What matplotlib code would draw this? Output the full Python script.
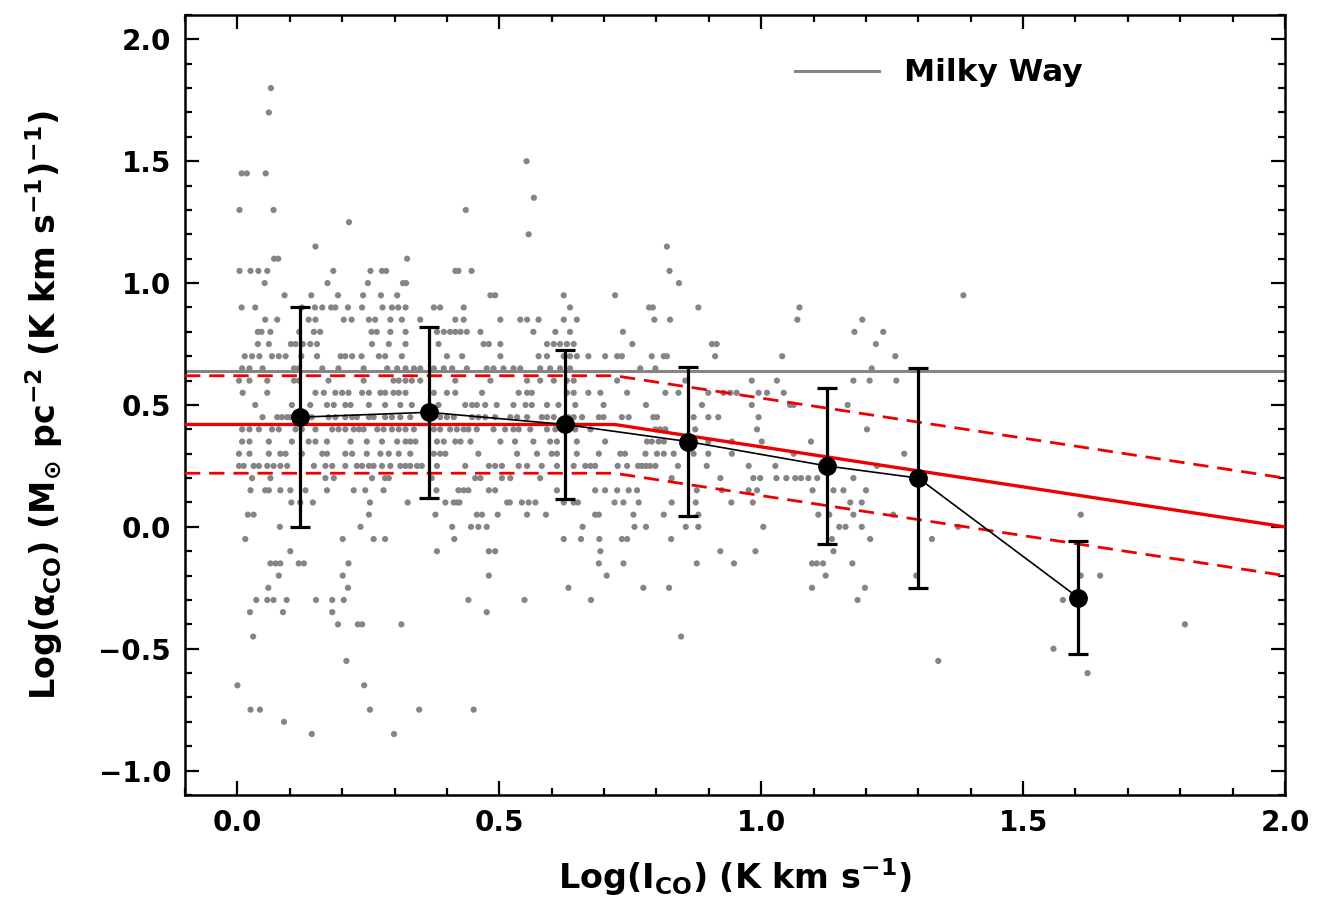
"""
alpha_CO against I_CO: pixel data, binned medians and the fitted relation.
"""
import numpy as np
import matplotlib
matplotlib.use('Agg')
import matplotlib.pyplot as plt
from matplotlib.ticker import MultipleLocator

# Gray pixel data, one list of x values per y level (y is quantised at 0.05).
level_y = [1.80, 1.70, 1.50, 1.45, 1.35, 1.30, 1.25, 1.20, 1.15, 1.10, 1.05,
           1.00, 0.95, 0.90, 0.85, 0.80, 0.75, 0.70, 0.65, 0.60, 0.55, 0.50,
           0.45, 0.40, 0.35, 0.30, 0.25, 0.20, 0.15, 0.10, 0.05, 0.00, -0.05,
           -0.10, -0.15, -0.20, -0.25, -0.30, -0.35, -0.40, -0.45, -0.50,
           -0.55, -0.60, -0.65, -0.75, -0.80, -0.85]
level_x = [
    [0.064],
    [0.060],
    [0.552],
    [0.008, 0.018, 0.054],
    [0.566],
    [0.004, 0.069, 0.436],
    [0.213],
    [0.556],
    [0.149, 0.820],
    [0.070, 0.078, 0.324],
    [0.004, 0.025, 0.040, 0.057, 0.183, 0.254, 0.276, 0.284, 0.416, 0.422,
     0.447, 0.825],
    [0.052, 0.172, 0.249, 0.316, 0.322, 0.843],
    [0.090, 0.141, 0.192, 0.240, 0.274, 0.305, 0.483, 0.492, 0.623, 0.721,
     1.386],
    [0.008, 0.034, 0.123, 0.148, 0.162, 0.179, 0.187, 0.211, 0.238, 0.277,
     0.295, 0.307, 0.321, 0.375, 0.387, 0.432, 0.635, 0.786, 0.793, 0.880,
     1.073],
    [0.053, 0.076, 0.136, 0.149, 0.203, 0.218, 0.251, 0.263, 0.292, 0.314,
     0.349, 0.416, 0.432, 0.502, 0.540, 0.553, 0.575, 0.623, 0.648, 0.796,
     0.826, 1.069, 1.193],
    [0.039, 0.046, 0.063, 0.118, 0.146, 0.158, 0.256, 0.266, 0.292, 0.321,
     0.381, 0.394, 0.406, 0.416, 0.426, 0.438, 0.464, 0.565, 0.607, 0.635,
     0.736, 1.178, 1.233],
    [0.039, 0.060, 0.102, 0.111, 0.125, 0.139, 0.152, 0.257, 0.289, 0.321,
     0.384, 0.470, 0.480, 0.502, 0.591, 0.604, 0.616, 0.629, 0.642, 0.754,
     0.906, 0.915, 1.219],
    [0.014, 0.028, 0.042, 0.066, 0.079, 0.092, 0.122, 0.152, 0.197, 0.206,
     0.219, 0.237, 0.270, 0.282, 0.314, 0.400, 0.429, 0.502, 0.575, 0.591,
     0.623, 0.635, 0.648, 0.670, 0.702, 0.725, 0.734, 0.791, 0.814, 0.820,
     0.912, 1.040, 1.256],
    [0.009, 0.023, 0.048, 0.108, 0.117, 0.162, 0.193, 0.241, 0.286, 0.305,
     0.321, 0.337, 0.349, 0.375, 0.394, 0.410, 0.438, 0.476, 0.489, 0.508,
     0.527, 0.540, 0.578, 0.597, 0.616, 0.635, 0.769, 0.798, 1.211],
    [0.003, 0.023, 0.057, 0.108, 0.117, 0.174, 0.241, 0.298, 0.308, 0.321,
     0.333, 0.349, 0.416, 0.483, 0.553, 0.578, 0.604, 0.629, 0.642, 0.725,
     0.855, 0.982, 1.030, 1.176, 1.207, 1.258],
    [0.010, 0.057, 0.149, 0.165, 0.187, 0.200, 0.212, 0.238, 0.251, 0.273,
     0.282, 0.298, 0.308, 0.321, 0.375, 0.400, 0.416, 0.467, 0.537, 0.553,
     0.562, 0.629, 0.642, 0.670, 0.693, 0.744, 0.817, 0.842, 0.899, 0.928,
     0.941, 0.953, 0.995, 1.011, 1.043],
    [0.034, 0.104, 0.139, 0.171, 0.184, 0.206, 0.216, 0.251, 0.282, 0.311,
     0.333, 0.384, 0.435, 0.448, 0.457, 0.473, 0.495, 0.527, 0.550, 0.562,
     0.591, 0.613, 0.645, 0.699, 0.780, 0.887, 0.982, 1.055, 1.062, 1.165],
    [0.048, 0.076, 0.085, 0.095, 0.101, 0.142, 0.174, 0.187, 0.206, 0.219,
     0.228, 0.251, 0.260, 0.282, 0.295, 0.311, 0.330, 0.387, 0.400, 0.413,
     0.448, 0.460, 0.473, 0.492, 0.521, 0.534, 0.553, 0.581, 0.591, 0.604,
     0.632, 0.642, 0.658, 0.690, 0.699, 0.734, 0.747, 0.794, 0.801, 0.871,
     0.899, 0.918, 0.995],
    [0.009, 0.023, 0.041, 0.066, 0.079, 0.111, 0.123, 0.149, 0.181, 0.193,
     0.206, 0.222, 0.232, 0.241, 0.267, 0.279, 0.295, 0.308, 0.321, 0.337,
     0.375, 0.387, 0.406, 0.419, 0.432, 0.441, 0.457, 0.489, 0.511, 0.527,
     0.537, 0.559, 0.591, 0.607, 0.645, 0.674, 0.798, 0.807, 0.817, 0.874,
     0.992, 1.202],
    [0.009, 0.023, 0.060, 0.104, 0.136, 0.149, 0.171, 0.216, 0.247, 0.276,
     0.305, 0.321, 0.330, 0.340, 0.381, 0.394, 0.416, 0.426, 0.445, 0.502,
     0.530, 0.565, 0.597, 0.610, 0.648, 0.702, 0.782, 0.791, 0.804, 0.814,
     0.899, 0.944, 1.001, 1.095],
    [0.003, 0.023, 0.060, 0.082, 0.092, 0.123, 0.162, 0.171, 0.206, 0.219,
     0.247, 0.273, 0.289, 0.308, 0.330, 0.375, 0.387, 0.397, 0.460, 0.534,
     0.572, 0.600, 0.610, 0.648, 0.690, 0.731, 0.740, 0.779, 0.801, 0.814,
     0.833, 0.871, 0.899, 0.944, 1.062, 1.273],
    [0.003, 0.012, 0.031, 0.041, 0.057, 0.069, 0.082, 0.095, 0.146, 0.168,
     0.181, 0.206, 0.228, 0.238, 0.251, 0.260, 0.276, 0.292, 0.311, 0.321,
     0.330, 0.343, 0.352, 0.381, 0.435, 0.480, 0.492, 0.505, 0.537, 0.553,
     0.581, 0.610, 0.642, 0.664, 0.674, 0.683, 0.726, 0.744, 0.765, 0.772,
     0.780, 0.788, 0.798, 0.841, 0.896, 0.976, 1.027, 1.221],
    [0.028, 0.063, 0.168, 0.184, 0.257, 0.282, 0.289, 0.371, 0.454, 0.464,
     0.505, 0.521, 0.578, 0.829, 0.922, 0.985, 0.998, 1.029, 1.048, 1.065,
     1.076, 1.090, 1.107, 1.176],
    [0.025, 0.053, 0.060, 0.082, 0.101, 0.130, 0.171, 0.222, 0.244, 0.279,
     0.380, 0.422, 0.432, 0.441, 0.480, 0.492, 0.610, 0.683, 0.702, 0.725,
     0.747, 0.763, 0.877, 0.925, 0.976, 0.992, 1.098, 1.138, 1.157, 1.200],
    [0.103, 0.120, 0.144, 0.253, 0.325, 0.397, 0.413, 0.419, 0.424, 0.515,
     0.520, 0.543, 0.556, 0.569, 0.623, 0.642, 0.650, 0.720, 0.737, 0.766,
     0.829, 0.875, 0.943, 0.984, 1.170, 1.192],
    [0.020, 0.031, 0.251, 0.378, 0.457, 0.467, 0.497, 0.553, 0.589, 0.683,
     0.690, 0.756, 0.814, 0.880, 1.109, 1.130, 1.176, 1.252, 1.610],
    [0.081, 0.235, 0.410, 0.446, 0.460, 0.476, 0.659, 0.758, 0.780, 0.856,
     0.880, 1.004, 1.149, 1.161, 1.192, 1.376],
    [0.015, 0.201, 0.260, 0.282, 0.414, 0.623, 0.656, 0.691, 0.734, 0.744,
     0.828, 1.135, 1.208, 1.326],
    [0.101, 0.381, 0.480, 0.492, 0.693, 0.922, 0.989, 1.138],
    [0.063, 0.073, 0.082, 0.117, 0.127, 0.212, 0.690, 0.737, 0.877, 0.948,
     1.097, 1.106, 1.118, 1.174],
    [0.079, 0.201, 0.480, 0.705, 1.123, 1.296, 1.610, 1.647],
    [0.059, 0.211, 0.632, 0.775, 0.824, 1.097, 1.198],
    [0.036, 0.057, 0.069, 0.094, 0.150, 0.181, 0.203, 0.441, 0.548, 0.675,
     1.184, 1.576],
    [0.024, 0.087, 0.181, 0.476],
    [0.192, 0.230, 0.238, 0.313, 1.809],
    [0.030, 0.847],
    [1.558],
    [0.208, 1.338],
    [1.623],
    [0.000, 0.242],
    [0.025, 0.043, 0.253, 0.347, 0.451],
    [0.089],
    [0.142, 0.299],
]

# Binned values with their scatter.
bin_x = [0.120, 0.365, 0.625, 0.860, 1.125, 1.300, 1.605]
bin_y = [0.45, 0.47, 0.42, 0.35, 0.25, 0.20, -0.29]
bin_err = [0.45, 0.35, 0.305, 0.305, 0.32, 0.45, 0.23]

# Fitted relation: flat, then a power-law decline; +/- 0.2 dex scatter.
fit_x = [-0.10, 0.72, 2.00]
fit_y = [0.42, 0.42, 0.00]
fit_scatter = 0.2
milky_way = 0.64


def main():
    plt.rcParams['font.family'] = 'DejaVu Sans'
    plt.rcParams['font.weight'] = 'bold'
    plt.rcParams['mathtext.default'] = 'bf'

    fig = plt.figure(figsize=(13.17, 9.07), dpi=100)
    ax = fig.add_axes([0.1405, 0.1235, 0.8352, 0.8600])

    # Flatten the pixel rows.
    px = np.concatenate([np.array(xs) for xs in level_x])
    py = np.concatenate([np.full(len(xs), y) for xs, y in zip(level_x, level_y)])
    ax.scatter(px, py, s=20, color='#858585', edgecolors='none', zorder=1)

    fx = np.array(fit_x)
    fy = np.array(fit_y)
    ax.plot(fx, fy, color='#ee0000', lw=2.4, zorder=3)
    for sgn in (1, -1):
        ax.plot(fx, fy + sgn * fit_scatter, color='#ee0000', lw=2.0,
                dashes=(5.5, 3.2), zorder=3)

    ax.axhline(milky_way, color='#858585', lw=2.2, zorder=2,
               label='Milky Way')

    ax.plot(bin_x, bin_y, color='black', lw=1.2, zorder=4)
    ax.errorbar(bin_x, bin_y, yerr=bin_err, fmt='o', color='black',
                ms=12.5, elinewidth=2.3, capsize=7, capthick=2.3, zorder=5)

    ax.set_xlim(-0.1, 2.0)
    ax.set_ylim(-1.1, 2.1)
    ax.xaxis.set_major_locator(MultipleLocator(0.5))
    ax.xaxis.set_minor_locator(MultipleLocator(0.1))
    ax.yaxis.set_major_locator(MultipleLocator(0.5))
    ax.yaxis.set_minor_locator(MultipleLocator(0.1))
    ax.xaxis.set_major_formatter(lambda v, pos: f'{v:.1f}'.replace('-', '\u2212'))
    ax.yaxis.set_major_formatter(lambda v, pos: f'{v:.1f}'.replace('-', '\u2212'))
    ax.tick_params(which='both', direction='in', top=True, right=True,
                   width=1.6, labelsize=20, pad=10)
    ax.tick_params(which='major', length=10)
    ax.tick_params(which='minor', length=5)
    for sp in ax.spines.values():
        sp.set_linewidth(1.8)

    ax.set_xlabel('Log(I$_{CO}$) (K km s$^{-1}$)', fontsize=24,
                  fontweight='bold', labelpad=14)
    ax.set_ylabel('Log($\\alpha_{CO}$) (M$_{\\odot}$ pc$^{-2}$ '
                  '(K km s$^{-1}$)$^{-1}$)', fontsize=24, fontweight='bold',
                  labelpad=24)

    ax.legend(loc='center left', bbox_to_anchor=(0.5545, 0.9256),
              frameon=False, fontsize=22.5, handlelength=2.7,
              handletextpad=0.8, borderpad=0, borderaxespad=0)

    fig.savefig('out.png', dpi=100)


if __name__ == '__main__':
    main()
